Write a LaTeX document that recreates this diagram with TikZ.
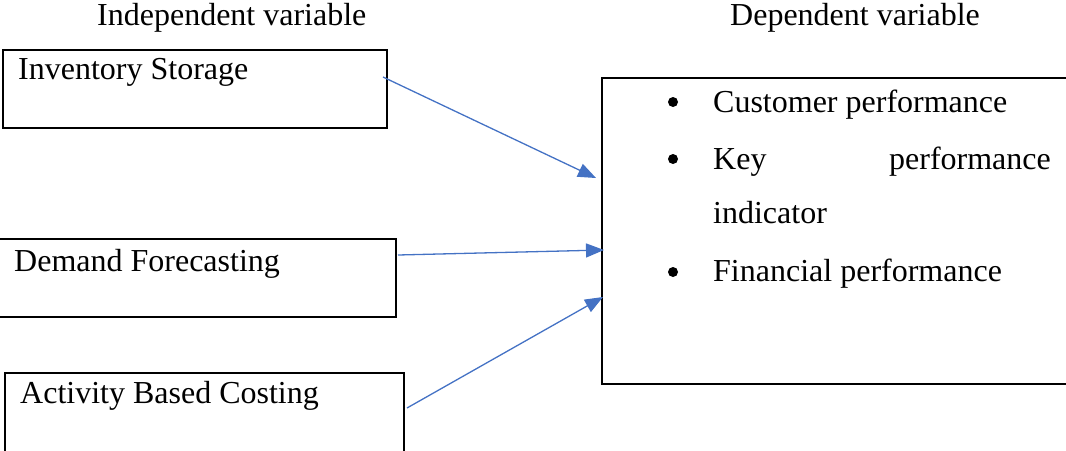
\documentclass[tikz,border=0pt]{standalone}
\usepackage{fontspec}
\setmainfont{Liberation Serif}
\usetikzlibrary{arrows.meta}
\definecolor{arrowblue}{HTML}{4472C4}
\begin{document}
\begin{tikzpicture}[x=1pt,y=-1pt,
  txt/.style={inner sep=0pt,anchor=base west,font=\fontsize{32}{38}\selectfont},
  boxline/.style={draw=black,line width=1.2pt},
  conn/.style={draw=arrowblue,line width=1.3pt,-{Triangle[length=18pt,width=14pt]}},
  dot/.style={circle,fill=black,inner sep=0pt,minimum size=10pt}]
\useasboundingbox (0,0) rectangle (1066,450);
\clip (0,0) rectangle (1066,450);
% headings
\node[txt] (hind) at (97,25) {Independent variable};
\node[txt] (hdep) at (730,25) {Dependent variable};
% left boxes
\draw[boxline] (3,50) rectangle (387,128);
\node[txt] (inv) at (18,79) {Inventory Storage};
\draw[boxline] (-1,239) rectangle (396,317);
\node[txt] (dem) at (14,271) {Demand Forecasting};
\draw[boxline] (5,373) rectangle (404,460);
\node[txt] (abc) at (20,403) {Activity Based Costing};
% right box
\draw[boxline] (1070,78) -- (602,78) -- (602,384) -- (1070,384);
\node[dot] (b1) at (673,102) {};
\node[dot] (b2) at (673,159) {};
\node[dot] (b3) at (673,272) {};
\node[txt] (t1) at (713,112) {Customer performance};
\node[txt] (t2) at (713,169) {Key};
\node[txt,anchor=base east] (t2b) at (1051,169) {performance};
\node[txt] (t3) at (713,223) {indicator};
\node[txt] (t4) at (713,281) {Financial performance};
% connectors
\coordinate (s1) at (383,77);
\coordinate (e1) at (596,178);
\coordinate (s2) at (398,255);
\coordinate (e2) at (604,250);
\coordinate (s3) at (407,408);
\coordinate (e3) at (603,297);
\draw[conn] (s1) -- (e1);
\draw[conn] (s2) -- (e2);
\draw[conn] (s3) -- (e3);
\end{tikzpicture}
\end{document}
